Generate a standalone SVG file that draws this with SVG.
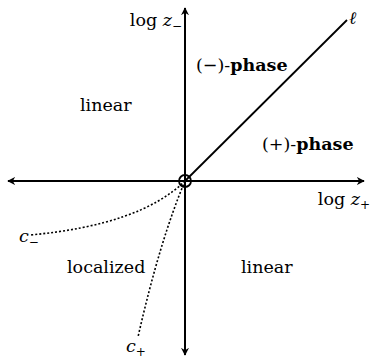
<svg xmlns="http://www.w3.org/2000/svg" width="372" height="360" viewBox="0 0 372 360">
<style>
.t{font-family:'DejaVu Serif','Liberation Serif',serif;font-size:17.5px;fill:#000}
.ax{stroke:#000;stroke-width:2;fill:none}
.dot{stroke:#000;stroke-width:1.6;fill:none;stroke-dasharray:2,2}
</style>
<defs>
<marker id="ah" viewBox="0 0 10 10" refX="9" refY="5" markerWidth="8" markerHeight="8" orient="auto" markerUnits="userSpaceOnUse">
<path d="M0,0 L10,5 L0,10 L3,5 Z" fill="#000"/>
</marker>
</defs>
<g id="connectors">
<line class="ax" x1="185" y1="181" x2="185" y2="8" marker-end="url(#ah)"/>
<line class="ax" x1="185" y1="181" x2="185" y2="355" marker-end="url(#ah)"/>
<line class="ax" x1="185" y1="181" x2="364" y2="181" marker-end="url(#ah)"/>
<line class="ax" x1="185" y1="181" x2="8" y2="181" marker-end="url(#ah)"/>
<line x1="185" y1="181" x2="347" y2="20" stroke="#000" stroke-width="1.8"/>
<path class="dot" d="M185,181 Q140,225 30,235"/>
<path class="dot" d="M185,181 Q160,240 138,337"/>
</g>
<g id="origin"><circle cx="185" cy="181" r="6" fill="none" stroke="#000" stroke-width="1.8"/></g>
<g id="labels">
<text class="t" x="182" y="26" text-anchor="end">log <tspan font-style="italic">z</tspan><tspan font-size="12" dy="4">−</tspan></text>
<text class="t" x="196" y="71">(−)-<tspan font-weight="bold">phase</tspan></text>
<text class="t" x="80" y="111">linear</text>
<text class="t" x="262" y="150">(+)-<tspan font-weight="bold">phase</tspan></text>
<text class="t" x="370" y="205" text-anchor="end">log <tspan font-style="italic">z</tspan><tspan font-size="12" dy="4">+</tspan></text>
<text class="t" x="349" y="24" font-style="italic">ℓ</text>
<text class="t" x="19" y="242" font-style="italic">c<tspan font-style="normal" font-size="12" dy="4">−</tspan></text>
<text class="t" x="67" y="273">localized</text>
<text class="t" x="241" y="273">linear</text>
<text class="t" x="126" y="352" font-style="italic">c<tspan font-style="normal" font-size="12" dy="4">+</tspan></text>
</g>
</svg>
